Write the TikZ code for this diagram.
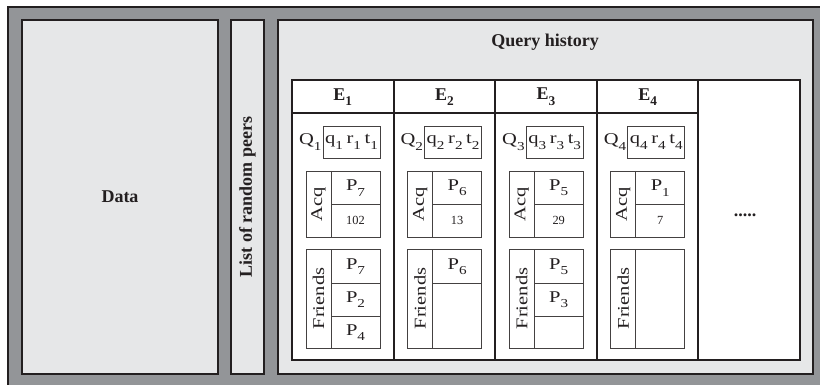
\documentclass[tikz,border=0pt]{standalone}
\usepackage{fontspec}
\setmainfont{Liberation Serif}
\newfontfamily\entryfont[FakeStretch=1.25]{Liberation Serif}
\usepackage{graphicx}
\usepackage{xcolor}
\definecolor{framegrey}{HTML}{939598}
\definecolor{panelgrey}{HTML}{E6E7E8}
\definecolor{inkgrey}{HTML}{231F20}
\usetikzlibrary{positioning}
\newcommand{\lowsub}[1]{\raisebox{-0.7ex}{\scalebox{0.74}{#1}}}

\begin{document}
\begin{tikzpicture}[
    x=0.5pt, y=-0.5pt,
    panel/.style={draw=inkgrey, line width=1.1pt, fill=panelgrey},
    frame/.style={draw=inkgrey, line width=1pt},
    cell/.style={draw=inkgrey!85, line width=0.45pt},
    title/.style={font=\fontsize{9}{11}\selectfont\bfseries, text=inkgrey},
    entry/.style={font=\entryfont\fontsize{8.2}{10}\selectfont, text=inkgrey, inner sep=0.6pt},
    count/.style={font=\fontsize{6.2}{7}\selectfont, text=inkgrey}
  ]
    \useasboundingbox (0,0) rectangle (820,385);

    % Outer frame and the three panels
    \fill [framegrey] (8,7) rectangle (820,385);
    \draw [inkgrey, line width=1.1pt] (8,385) -- (8,7) -- (820,7);
    \draw [panel] (22,20) rectangle (218,374);
    \draw [panel] (231,20) rectangle (264,374);
    \draw [panel] (278,20) rectangle (813,374);

    \node [title] (data) at (120,197) {Data};
    \node [title, rotate=90] (peers) at (247.5,197) {List of random peers};
    \node [title] (history) at (545,42) {Query history};

    % Query history table
    \draw [frame, fill=white] (292,80) rectangle (800,360);
    \draw [frame] (292,113) -- (698.4,113);
    \draw [frame] (393.6,80) -- (393.6,360);
    \draw [frame] (495.2,80) -- (495.2,360);
    \draw [frame] (596.8,80) -- (596.8,360);
    \draw [frame] (698.4,80) -- (698.4,360);
    \node [title] (more) at (745,215) {.....};

    % Entry E1
    \begin{scope}[shift={(292,0)}]
      \node [title] (head1) at (50.8,97) {E\lowsub{1}};
      \draw [cell] (31,126) rectangle (88,158);
      \node [entry, anchor=east] (qlabel1) at (31,142) {Q\lowsub{1}};
      \node [entry] (query1) at (59.5,142) {q\lowsub{1}\hspace{0.22em}r\lowsub{1}\hspace{0.22em}t\lowsub{1}};
      \draw [cell] (14,171) rectangle (88,237);
      \draw [cell] (39,171) -- (39,237);
      \draw [cell] (39,204) -- (88,204);
      \node [entry, rotate=90] (acq1) at (26.5,204) {Acq};
      \node [entry] (acqpeer1) at (63.5,188) {P\lowsub{7}};
      \node [count] (acqcount1) at (63.5,220.5) {102};
      \draw [cell] (14,249) rectangle (88,348);
      \draw [cell] (39,249) -- (39,348);
      \draw [cell] (39,283) -- (88,283);
      \draw [cell] (39,316) -- (88,316);
      \node [entry, rotate=90] (friends1) at (26.5,298.5) {Friends};
      \node [entry] (friendA1) at (63.5,266.5) {P\lowsub{7}};
      \node [entry] (friendB1) at (63.5,299.5) {P\lowsub{2}};
      \node [entry] (friendC1) at (63.5,332.5) {P\lowsub{4}};
    \end{scope}

    % Entry E2
    \begin{scope}[shift={(393.6,0)}]
      \node [title] (head2) at (50.8,97) {E\lowsub{2}};
      \draw [cell] (31,126) rectangle (88,158);
      \node [entry, anchor=east] (qlabel2) at (31,142) {Q\lowsub{2}};
      \node [entry] (query2) at (59.5,142) {q\lowsub{2}\hspace{0.22em}r\lowsub{2}\hspace{0.22em}t\lowsub{2}};
      \draw [cell] (14,171) rectangle (88,237);
      \draw [cell] (39,171) -- (39,237);
      \draw [cell] (39,204) -- (88,204);
      \node [entry, rotate=90] (acq2) at (26.5,204) {Acq};
      \node [entry] (acqpeer2) at (63.5,188) {P\lowsub{6}};
      \node [count] (acqcount2) at (63.5,220.5) {13};
      \draw [cell] (14,249) rectangle (88,348);
      \draw [cell] (39,249) -- (39,348);
      \draw [cell] (39,283) -- (88,283);
      \node [entry, rotate=90] (friends2) at (26.5,298.5) {Friends};
      \node [entry] (friendA2) at (63.5,266.5) {P\lowsub{6}};
    \end{scope}

    % Entry E3
    \begin{scope}[shift={(495.2,0)}]
      \node [title] (head3) at (50.8,97) {E\lowsub{3}};
      \draw [cell] (31,126) rectangle (88,158);
      \node [entry, anchor=east] (qlabel3) at (31,142) {Q\lowsub{3}};
      \node [entry] (query3) at (59.5,142) {q\lowsub{3}\hspace{0.22em}r\lowsub{3}\hspace{0.22em}t\lowsub{3}};
      \draw [cell] (14,171) rectangle (88,237);
      \draw [cell] (39,171) -- (39,237);
      \draw [cell] (39,204) -- (88,204);
      \node [entry, rotate=90] (acq3) at (26.5,204) {Acq};
      \node [entry] (acqpeer3) at (63.5,188) {P\lowsub{5}};
      \node [count] (acqcount3) at (63.5,220.5) {29};
      \draw [cell] (14,249) rectangle (88,348);
      \draw [cell] (39,249) -- (39,348);
      \draw [cell] (39,283) -- (88,283);
      \draw [cell] (39,316) -- (88,316);
      \node [entry, rotate=90] (friends3) at (26.5,298.5) {Friends};
      \node [entry] (friendA3) at (63.5,266.5) {P\lowsub{5}};
      \node [entry] (friendB3) at (63.5,299.5) {P\lowsub{3}};
    \end{scope}

    % Entry E4
    \begin{scope}[shift={(596.8,0)}]
      \node [title] (head4) at (50.8,97) {E\lowsub{4}};
      \draw [cell] (31,126) rectangle (88,158);
      \node [entry, anchor=east] (qlabel4) at (31,142) {Q\lowsub{4}};
      \node [entry] (query4) at (59.5,142) {q\lowsub{4}\hspace{0.22em}r\lowsub{4}\hspace{0.22em}t\lowsub{4}};
      \draw [cell] (14,171) rectangle (88,237);
      \draw [cell] (39,171) -- (39,237);
      \draw [cell] (39,204) -- (88,204);
      \node [entry, rotate=90] (acq4) at (26.5,204) {Acq};
      \node [entry] (acqpeer4) at (63.5,188) {P\lowsub{1}};
      \node [count] (acqcount4) at (63.5,220.5) {7};
      \draw [cell] (14,249) rectangle (88,348);
      \draw [cell] (39,249) -- (39,348);
      \node [entry, rotate=90] (friends4) at (26.5,298.5) {Friends};
    \end{scope}

\end{tikzpicture}
\end{document}
